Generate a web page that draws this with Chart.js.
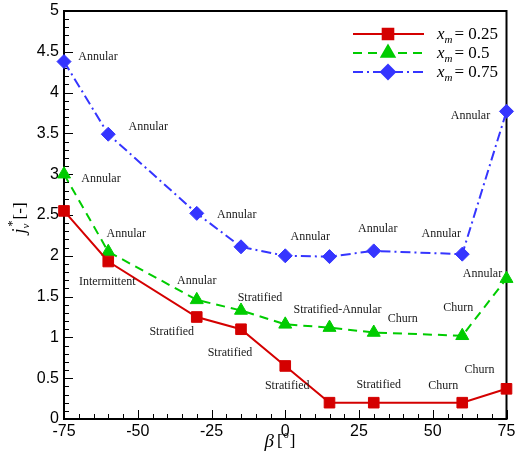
<!DOCTYPE html>
<html>
<head>
<meta charset="utf-8">
<script src="https://cdn.jsdelivr.net/npm/chart.js@4.4.1/dist/chart.umd.min.js"></script>
<style>
  body { margin: 0; background: #fff; }
  canvas { display: block; }
</style>
</head>
<body>
<canvas id="jvChart" width="515" height="464"></canvas>
<script>
// inclination angle beta [deg] and superficial vapour velocity j_v* [-]
const betaDeg = [-75, -60, -30, -15, 0, 15, 30, 60, 75];
const jvXm025 = [2.55, 1.93, 1.25, 1.10, 0.65, 0.20, 0.20, 0.20, 0.37];
const jvXm050 = [3.00, 2.05, 1.46, 1.33, 1.16, 1.12, 1.06, 1.02, 1.72];
const jvXm075 = [4.38, 3.49, 2.52, 2.11, 2.00, 1.99, 2.06, 2.02, 3.77];

const xTicks = [-75, -50, -25, 0, 25, 50, 75];
const yTicks = [0, 0.5, 1, 1.5, 2, 2.5, 3, 3.5, 4, 4.5, 5];

// observed flow regime at each point (null = not labelled)
const regime025 = [null, 'Intermittent', 'Stratified', 'Stratified', 'Stratified', null, 'Stratified', 'Churn', 'Churn'];
const regime050 = ['Annular', 'Annular', 'Annular', 'Stratified', null, 'Stratified-Annular', 'Churn', 'Churn', 'Annular'];
const regime075 = ['Annular', 'Annular', 'Annular', null, 'Annular', null, 'Annular', 'Annular', 'Annular'];

// pixel offsets of the regime labels from their points
const offs025 = [null, [-1, 20], [-25, 15], [-11, 24], [2, 20], null, [5, -18], [-19, -17], [-27, -19]];
const offs050 = [[37, 5], [18, -18], [0, -19], [19, -13], null, [8, -18], [29, -14], [-4, -28], [-24, -5]];
const offs075 = [[34, -5], [40, -7], [40, 1], null, [25, -19], null, [4, -22], [-21, -20], [-36, 4]];

const RED = '#d40000', GREEN = '#00cc00', BLUE = '#3535ff';
const SERIF = '"Liberation Serif", "Times New Roman", serif';
const SANS = '"Liberation Sans", Arial, sans-serif';

const series = [
  { xm: '0.25', data: jvXm025, regimes: regime025, offs: offs025, color: RED, dash: [], style: 'rect', radius: 7.5 },
  { xm: '0.5', data: jvXm050, regimes: regime050, offs: offs050, color: GREEN, dash: [9, 6], style: 'triangle', radius: 7.5 },
  { xm: '0.75', data: jvXm075, regimes: regime075, offs: offs075, color: BLUE, dash: [10, 4, 2, 4], style: 'rectRot', radius: 7 }
];

// axis frame with inward major/minor ticks
const framePlugin = {
  id: 'frame',
  beforeDatasetsDraw(chart) {
    const { ctx, chartArea: a, scales } = chart;
    ctx.save();
    ctx.strokeStyle = '#000';
    ctx.lineWidth = 1;
    for (let v = 0; v <= 5.0001; v += 0.1) {
      const y = Math.round(scales.y.getPixelForValue(v)) + 0.5;
      const major = Math.abs(v * 2 - Math.round(v * 2)) < 1e-6;
      ctx.beginPath();
      ctx.moveTo(a.left, y);
      ctx.lineTo(a.left + (major ? 9 : 5), y);
      ctx.stroke();
    }
    for (let v = -75; v <= 75; v += 5) {
      const x = Math.round(scales.x.getPixelForValue(v)) + 0.5;
      const major = v % 25 === 0;
      ctx.beginPath();
      ctx.moveTo(x, a.bottom);
      ctx.lineTo(x, a.bottom - (major ? 9 : 5));
      ctx.stroke();
    }
    ctx.lineWidth = 2;
    ctx.strokeRect(a.left, a.top, a.right - a.left, a.bottom - a.top);
    ctx.restore();
  }
};

// flow regime text, axis titles and legend
const notesPlugin = {
  id: 'notes',
  afterDatasetsDraw(chart) {
    const { ctx, scales } = chart;
    ctx.save();
    ctx.fillStyle = '#1a1a1a';
    ctx.font = '12px ' + SERIF;
    ctx.textAlign = 'center';
    ctx.textBaseline = 'middle';
    series.forEach(s => {
      s.regimes.forEach((txt, i) => {
        if (!txt) return;
        const px = scales.x.getPixelForValue(betaDeg[i]);
        const py = scales.y.getPixelForValue(s.data[i]);
        ctx.fillText(txt, px + s.offs[i][0], py + s.offs[i][1]);
      });
    });

    ctx.fillStyle = '#000';
    ctx.textAlign = 'left';
    ctx.textBaseline = 'alphabetic';

    // x title: beta [deg]
    const parts = [
      { t: '\u03b2', f: 'italic 19px ' + SERIF, dy: 0, gap: 3 },
      { t: '[', f: '17px ' + SERIF, dy: -1, gap: 1 },
      { t: 'o', f: '10px ' + SERIF, dy: -9, gap: 1 },
      { t: ']', f: '17px ' + SERIF, dy: -1, gap: 0 }
    ];
    let w = 0;
    parts.forEach(p => { ctx.font = p.f; w += ctx.measureText(p.t).width + p.gap; });
    let x = 280 - w / 2;
    parts.forEach(p => {
      ctx.font = p.f;
      ctx.fillText(p.t, x, 447 + p.dy);
      x += ctx.measureText(p.t).width + p.gap;
    });

    // y title: j_v* [-]
    ctx.save();
    ctx.translate(25, 218);
    ctx.rotate(-Math.PI / 2);
    const yParts = [
      { t: 'j', f: 'italic 18px ' + SERIF, dy: 0, adv: true },
      { t: '*', f: '12px ' + SERIF, dy: -9, adv: false },
      { t: 'v', f: 'italic 11px ' + SERIF, dy: 4, adv: true },
      { t: ' [-]', f: '17px ' + SERIF, dy: 0, adv: true }
    ];
    w = 0;
    yParts.forEach(p => { ctx.font = p.f; if (p.adv) w += ctx.measureText(p.t).width; });
    x = -w / 2;
    yParts.forEach(p => {
      ctx.font = p.f;
      ctx.fillText(p.t, x + (p.adv ? 0 : 2), p.dy);
      if (p.adv) x += ctx.measureText(p.t).width;
    });
    ctx.restore();

    // legend
    series.forEach((s, i) => {
      const y = 34 + i * 19;
      ctx.strokeStyle = s.color;
      ctx.lineWidth = 2;
      ctx.setLineDash(s.dash);
      ctx.beginPath();
      ctx.moveTo(353, y);
      ctx.lineTo(424, y);
      ctx.stroke();
      ctx.setLineDash([]);
      Chart.helpers.drawPoint(ctx, {
        pointStyle: s.style, radius: s.radius, borderWidth: 1
      }, 388, y);
      ctx.fillStyle = s.color;
      ctx.fill();
      ctx.fillStyle = '#000';
      let tx = 437;
      ctx.font = 'italic 17px ' + SERIF;
      ctx.fillText('x', tx, y + 5);
      tx += ctx.measureText('x').width;
      ctx.font = 'italic 11px ' + SERIF;
      ctx.fillText('m', tx, y + 9);
      tx += ctx.measureText('m').width + 2;
      ctx.font = '17px ' + SERIF;
      ctx.fillText('= ' + s.xm, tx, y + 5);
    });
    ctx.restore();
  }
};

new Chart(document.getElementById('jvChart').getContext('2d'), {
  type: 'line',
  data: {
    datasets: series.map(s => ({
      label: 'x_m = ' + s.xm,
      data: betaDeg.map((b, i) => ({ x: b, y: s.data[i] })),
      borderColor: s.color,
      backgroundColor: s.color,
      borderWidth: 2,
      borderDash: s.dash,
      pointStyle: s.style,
      pointRadius: s.radius,
      pointBorderWidth: 1,
      pointBorderColor: s.color,
      pointBackgroundColor: s.color,
      tension: 0,
      clip: false,
      fill: false
    }))
  },
  options: {
    responsive: false,
    animation: false,
    layout: { padding: { left: 0, top: 11, right: 5, bottom: 0 } },
    plugins: { legend: { display: false }, tooltip: { enabled: false } },
    scales: {
      x: {
        type: 'linear',
        min: -75, max: 75,
        afterBuildTicks: scale => { scale.ticks = xTicks.map(v => ({ value: v })); },
        afterFit: scale => {
          scale.height = 45;
          scale.paddingLeft = 0;
          scale.paddingRight = 0;
        },
        grid: { display: false, drawTicks: false },
        border: { display: false },
        ticks: { color: '#000', font: { family: SANS, size: 16 }, padding: 3, maxRotation: 0, callback: v => String(v) }
      },
      y: {
        type: 'linear',
        min: 0, max: 5,
        afterBuildTicks: scale => { scale.ticks = yTicks.map(v => ({ value: v })); },
        afterFit: scale => {
          scale.width = 64;
          scale.paddingTop = 0;
          scale.paddingBottom = 0;
        },
        grid: { display: false, drawTicks: false },
        border: { display: false },
        ticks: { color: '#000', font: { family: SANS, size: 16 }, padding: 5, callback: v => String(v) }
      }
    }
  },
  plugins: [framePlugin, notesPlugin]
});
</script>
</body>
</html>
